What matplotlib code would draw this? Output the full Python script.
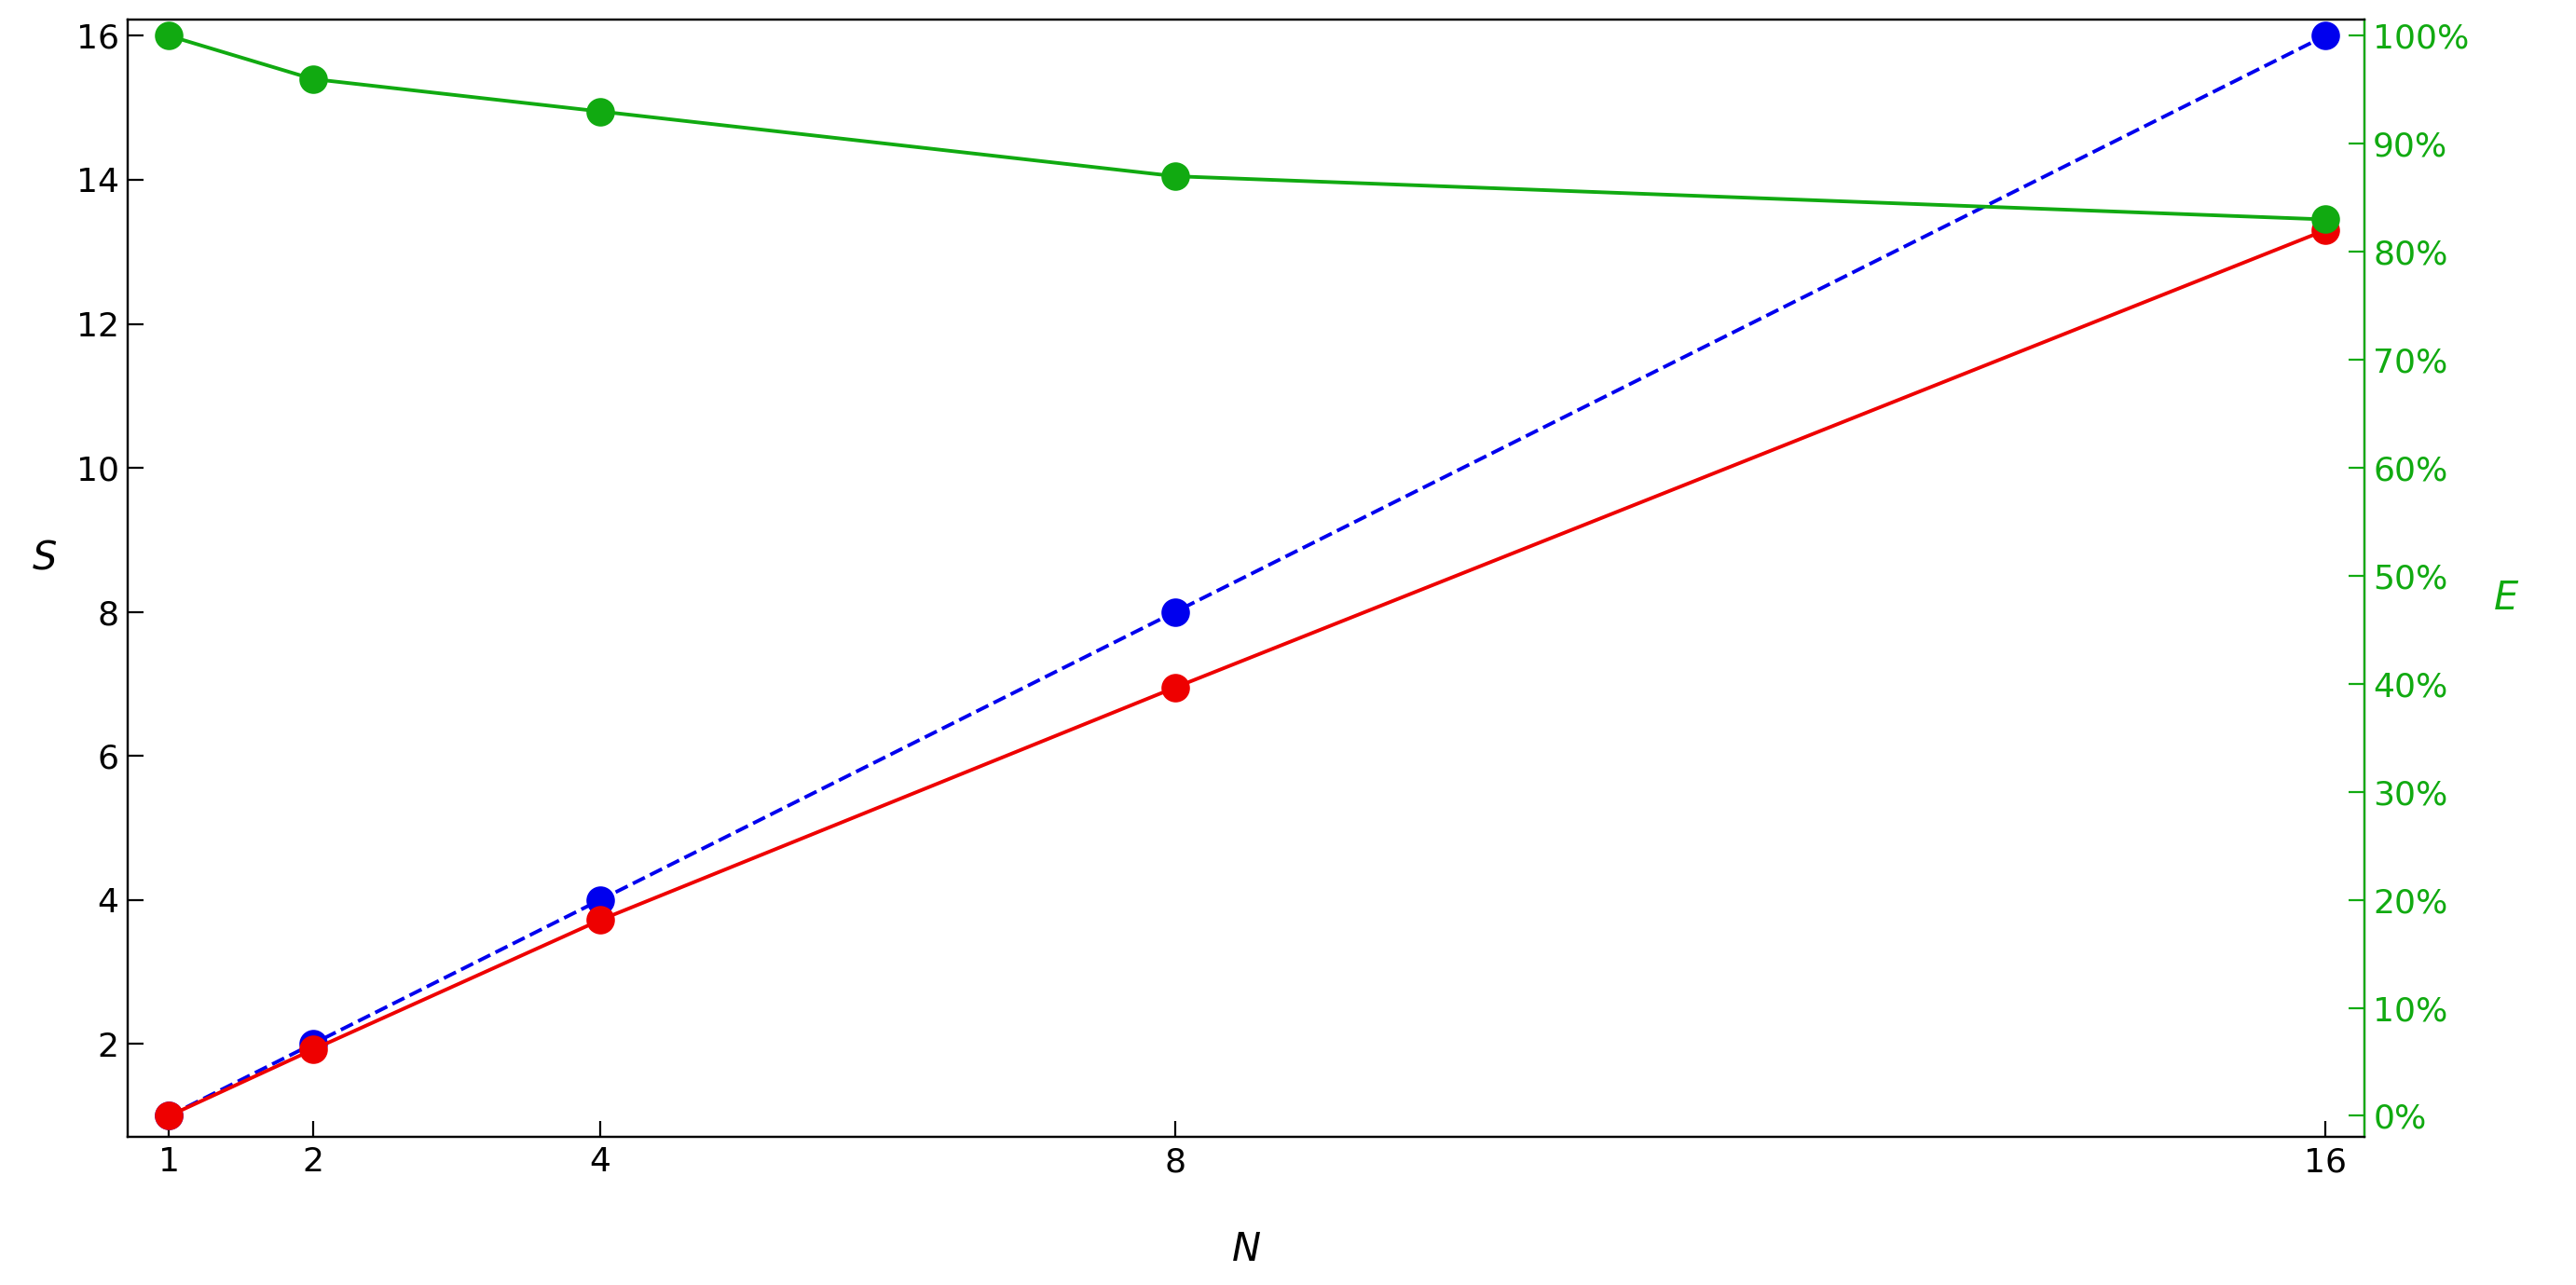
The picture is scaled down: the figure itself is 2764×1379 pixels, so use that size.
import matplotlib.pyplot as plt
from matplotlib.ticker import FuncFormatter

n = [1, 2, 4, 8, 16]
speedup = [1.0, 1.92, 3.72, 6.95, 13.3]
ideal = [1, 2, 4, 8, 16]
efficiency = [100, 96, 93, 87, 83]

green = '#11aa11'

fig = plt.figure(figsize=(13.82, 6.895), dpi=200)
ax = fig.add_axes([0.0497, 0.115, 0.868, 0.87])
ax2 = ax.twinx()

ax.plot(n, ideal, '--', color='#0000ee', lw=1.4, marker='o', ms=10, zorder=3)
ax.plot(n, speedup, '-', color='#ee0000', lw=1.4, marker='o', ms=10, zorder=4)
ax2.plot(n, efficiency, '-', color=green, lw=1.4, marker='o', ms=10)

ax.set_xlim(0.714, 16.27)
ax.set_ylim(0.703, 16.23)
ax.set_xticks(n)
ax.set_yticks([2, 4, 6, 8, 10, 12, 14, 16])
ax2.set_ylim((0.703 - 1) / 15 * 100, (16.23 - 1) / 15 * 100)
ax2.set_yticks(range(0, 101, 10))
ax2.yaxis.set_major_formatter(FuncFormatter(lambda v, p: '%d%%' % v))

ax.tick_params(labelsize=13, direction='in', length=6)
ax2.tick_params(labelsize=13, direction='in', length=6, colors=green)
ax2.spines['right'].set_color(green)
for a in (ax, ax2):
    for s in a.spines.values():
        s.set_linewidth(0.8)

ax.set_xlabel('N', fontsize=15, style='italic', labelpad=20)
ax.set_ylabel('S', fontsize=15, style='italic', rotation=0, labelpad=12)
ax2.set_ylabel('E', fontsize=15, style='italic', rotation=0, color=green, labelpad=14)

fig.savefig('out.png')
